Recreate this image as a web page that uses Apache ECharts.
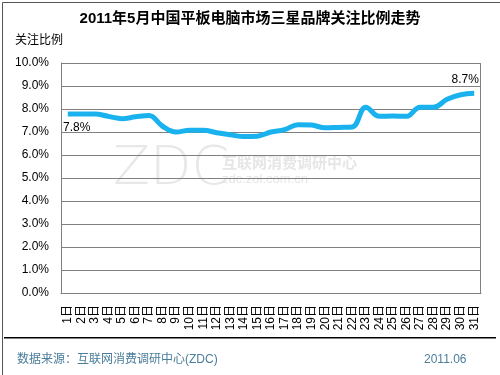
<!DOCTYPE html>
<html>
<head>
<meta charset="utf-8">
<script src="https://cdn.jsdelivr.net/npm/echarts@6/dist/echarts.min.js"></script>
<style>
  html, body { margin: 0; padding: 0; background: #fff; }
  #main { width: 500px; height: 375px; }
</style>
</head>
<body>
<div id="main"></div>
<script>
// 日期
var days = [];
for (var d = 1; d <= 31; d++) days.push(d + '日');

// 三星关注比例 (%)
var ratio = [7.78, 7.78, 7.78, 7.68, 7.58, 7.66, 7.72, 7.25, 7.0, 7.08,
  7.08, 6.97, 6.88, 6.8, 6.82, 7.0, 7.1, 7.32, 7.3, 7.18,
  7.2, 7.22, 8.08, 7.68, 7.7, 7.68, 8.08, 8.08, 8.42, 8.62, 8.68];

// 首尾标注
var firstLabel = '7.8%';
var lastLabel = '8.7%';

var font = '"Liberation Sans", "Noto Sans CJK SC", sans-serif';
var footColor = '#4a7d9a';

var seriesData = ratio.map(function (v, i) {
  if (i === 0) {
    return {value: v, label: {show: true, position: 'bottom', offset: [9, 3], formatter: firstLabel}};
  }
  if (i === ratio.length - 1) {
    return {value: v, label: {show: true, position: 'top', offset: [-9, -3], formatter: lastLabel}};
  }
  return v;
});

var chart = echarts.init(document.getElementById('main'));
chart.setOption({
  animation: false,
  backgroundColor: '#fff',
  textStyle: {fontFamily: font},
  title: {
    text: '2011年5月中国平板电脑市场三星品牌关注比例走势',
    left: 'center',
    top: 6,
    textStyle: {fontSize: 15, fontWeight: 'bold', color: '#000', fontFamily: font}
  },
  grid: {left: 61, right: 19, top: 63, bottom: 82},
  xAxis: {
    type: 'category',
    data: days,
    boundaryGap: true,
    axisLine: {lineStyle: {color: '#808080'}},
    axisTick: {show: false},
    axisLabel: {rotate: 90, interval: 0, margin: 12, fontSize: 12, color: '#000'}
  },
  yAxis: {
    type: 'value',
    min: 0,
    max: 10,
    interval: 1,
    axisLine: {show: true, lineStyle: {color: '#808080'}},
    axisTick: {show: false},
    splitLine: {lineStyle: {color: '#808080', width: 1}},
    axisLabel: {
      fontSize: 12, color: '#000', margin: 12,
      formatter: function (v) { return v.toFixed(1) + '%'; }
    }
  },
  graphic: [
    {type: 'rect', left: 0, top: 0, z: -10, silent: true,
      shape: {width: 499, height: 374},
      style: {fill: 'none', stroke: '#555', lineWidth: 1}},
    {type: 'rect', right: 19, top: 63, silent: true,
      shape: {width: 1, height: 230}, style: {fill: '#808080'}},
    {type: 'text', left: 15, top: 35,
      style: {text: '关注比例', fontSize: 12, fill: '#000', fontFamily: font}},
    // 水印
    {type: 'text', left: 113, top: 143, z: -1,
      style: {text: 'ZDC', fontSize: 54, fill: '#e8e8e8', fontFamily: '"DejaVu Sans"', fontWeight: 200}},
    {type: 'text', left: 222, top: 155, z: -1,
      style: {text: '互联网消费调研中心', fontSize: 15, fill: '#e6e6e6', fontFamily: '"Noto Sans CJK SC"', fontWeight: 'bold'}},
    {type: 'text', left: 222, top: 173, z: -1,
      style: {text: 'zdc.zol.com.cn', fontSize: 13, fill: '#e6e6e6', fontFamily: font}},
    // 底部
    {type: 'rect', left: 4, top: 337, silent: true,
      shape: {width: 492, height: 1.5}, style: {fill: '#000'}},
    {type: 'text', left: 17, top: 354,
      style: {text: '数据来源：互联网消费调研中心(ZDC)', fontSize: 12, fill: footColor, fontFamily: font}},
    {type: 'text', left: 424, top: 354,
      style: {text: '2011.06', fontSize: 12, fill: footColor, fontFamily: font}}
  ],
  series: [{
    type: 'line',
    data: seriesData,
    smooth: 0.4,
    symbol: 'circle',
    symbolSize: 0,
    showSymbol: true,
    itemStyle: {color: '#1ab2ee'},
    lineStyle: {color: '#1ab2ee', width: 5},
    label: {color: '#000', fontSize: 12}
  }]
});
</script>
</body>
</html>
